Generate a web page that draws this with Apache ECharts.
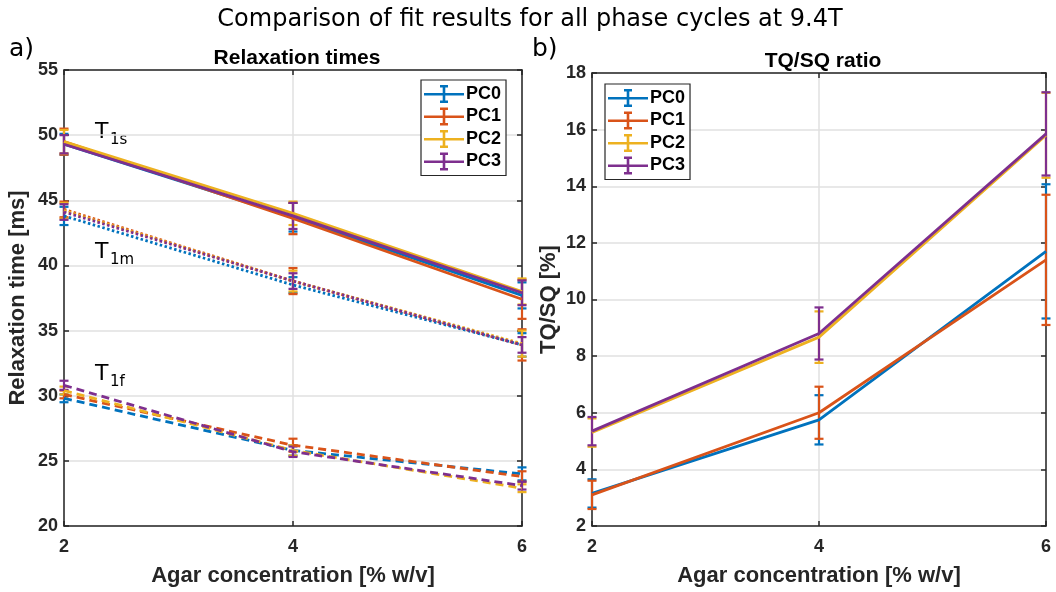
<!DOCTYPE html>
<html>
<head>
<meta charset="utf-8">
<script src="https://cdn.jsdelivr.net/npm/echarts@6/dist/echarts.min.js"></script>
<style>
html,body{margin:0;padding:0;background:#fff;}
#chart{width:1056px;height:592px;}
</style>
</head>
<body>
<div id="chart"></div>
<script>
// ---------------- DATA ----------------
const xVals = [2, 4, 6];
const pcNames = ['PC0', 'PC1', 'PC2', 'PC3'];

// Relaxation times [ms] (rows: PC0..PC3, cols: 2,4,6 % agar)
const t1sVals = [[49.3, 43.7, 37.7], [49.5, 43.6, 37.4], [49.5, 44.0, 38.0], [49.3, 43.8, 37.9]];
const t1sErr  = [[0.8, 1.1, 1.0], [1.0, 1.2, 1.5], [0.9, 0.9, 1.0], [0.7, 1.0, 0.95]];
const t1mVals = [[43.8, 38.5, 33.9], [44.3, 38.8, 33.9], [44.2, 38.8, 34.0], [44.1, 38.8, 33.9]];
const t1mErr  = [[0.7, 0.6, 0.9], [0.6, 1.0, 1.2], [0.6, 0.8, 1.0], [0.6, 0.6, 0.6]];
const t1fVals = [[29.8, 25.8, 24.0], [30.1, 26.2, 23.8], [30.4, 25.8, 22.9], [30.8, 25.7, 23.1]];
const t1fErr  = [[0.3, 0.4, 0.5], [0.3, 0.5, 0.4], [0.3, 0.4, 0.3], [0.35, 0.4, 0.3]];

// TQ/SQ ratio [%]
const tqVals = [[3.15, 5.75, 11.7], [3.1, 6.0, 11.4], [5.3, 8.67, 15.8], [5.35, 8.8, 15.85]];
const tqErr  = [[0.5, 0.87, 2.37], [0.5, 0.92, 2.3], [0.5, 0.91, 1.5], [0.5, 0.92, 1.47]];

const leftTicks = {min: 20, max: 55, interval: 5};
const rightTicks = {min: 2, max: 18, interval: 2};
const xTicks = {min: 2, max: 6, interval: 2};

// ---------------- STYLE ----------------
const colors = ['#0072BD', '#D95319', '#EDB120', '#7E2F8E'];
const axisColor = '#262626';
const gridColor = '#e0e0e0';
const boldFont = 'Liberation Sans, Arial, sans-serif';
const plainFont = 'DejaVu Sans, sans-serif';
const lw = 2.8;

const chart = echarts.init(document.getElementById('chart'), null, {renderer: 'canvas'});

function errRender(color) {
  return function (params, api) {
    const x = api.value(0);
    const lo = api.coord([x, api.value(1)]);
    const hi = api.coord([x, api.value(2)]);
    const hw = 4.5;
    const st = {stroke: color, lineWidth: 2.2};
    return {
      type: 'group',
      children: [
        {type: 'line', shape: {x1: lo[0], y1: lo[1], x2: hi[0], y2: hi[1]}, style: st},
        {type: 'line', shape: {x1: lo[0] - hw, y1: lo[1], x2: lo[0] + hw, y2: lo[1]}, style: st},
        {type: 'line', shape: {x1: hi[0] - hw, y1: hi[1], x2: hi[0] + hw, y2: hi[1]}, style: st}
      ]
    };
  };
}

const series = [];
const groupsLeft = [
  {vals: t1sVals, err: t1sErr, type: 'solid'},
  {vals: t1mVals, err: t1mErr, type: [2.5, 2.5]},
  {vals: t1fVals, err: t1fErr, type: [8, 5]}
];
pcNames.forEach(function (name, p) {
  groupsLeft.forEach(function (g) {
    series.push({
      name: name, type: 'line', xAxisIndex: 0, yAxisIndex: 0,
      data: xVals.map((x, i) => [x, g.vals[p][i]]),
      symbol: 'none', showSymbol: false, silent: true, animation: false,
      itemStyle: {color: colors[p]},
      lineStyle: {color: colors[p], width: lw, type: g.type, cap: 'butt'}
    });
    series.push({
      name: name, type: 'custom', xAxisIndex: 0, yAxisIndex: 0,
      data: xVals.map((x, i) => [x, g.vals[p][i] - g.err[p][i], g.vals[p][i] + g.err[p][i]]),
      renderItem: errRender(colors[p]), silent: true, animation: false,
      itemStyle: {color: colors[p]}
    });
  });
});
pcNames.forEach(function (name, p) {
  series.push({
    name: name, type: 'line', xAxisIndex: 2, yAxisIndex: 2,
    data: xVals.map((x, i) => [x, tqVals[p][i]]),
    symbol: 'none', showSymbol: false, silent: true, animation: false,
    itemStyle: {color: colors[p]},
    lineStyle: {color: colors[p], width: lw}
  });
  series.push({
    name: name, type: 'custom', xAxisIndex: 2, yAxisIndex: 2,
    data: xVals.map((x, i) => [x, tqVals[p][i] - tqErr[p][i], tqVals[p][i] + tqErr[p][i]]),
    renderItem: errRender(colors[p]), silent: true, animation: false,
    itemStyle: {color: colors[p]}
  });
});

const lineAx = {show: true, lineStyle: {color: axisColor, width: 1.5}};
const tickIn = {show: true, inside: true, length: 5, lineStyle: {color: axisColor, width: 1.5}};
const labelFont = {color: axisColor, fontFamily: boldFont, fontWeight: 'bold', fontSize: 18};
const nameFont = {color: axisColor, fontFamily: boldFont, fontWeight: 'bold', fontSize: 22};

function mainX(gridIndex) {
  return {
    type: 'value', gridIndex: gridIndex, min: xTicks.min, max: xTicks.max, interval: xTicks.interval,
    position: 'bottom', axisLine: lineAx, axisTick: tickIn,
    axisLabel: Object.assign({margin: 12}, labelFont),
    splitLine: {show: true, lineStyle: {color: gridColor, width: 1.5}},
    name: 'Agar concentration [% w/v]', nameLocation: 'middle', nameGap: 39, nameTextStyle: nameFont
  };
}
function topX(gridIndex) {
  return {
    type: 'value', gridIndex: gridIndex, min: xTicks.min, max: xTicks.max, interval: xTicks.interval,
    position: 'top', axisLine: lineAx, axisTick: tickIn, axisLabel: {show: false}, splitLine: {show: false}
  };
}
function mainY(gridIndex, t, name, gap) {
  return {
    type: 'value', gridIndex: gridIndex, min: t.min, max: t.max, interval: t.interval,
    position: 'left', axisLine: lineAx, axisTick: tickIn,
    axisLabel: Object.assign({margin: 6}, labelFont),
    splitLine: {show: true, lineStyle: {color: gridColor, width: 1.5}},
    name: name, nameLocation: 'middle', nameGap: gap, nameTextStyle: nameFont
  };
}
function rightY(gridIndex, t) {
  return {
    type: 'value', gridIndex: gridIndex, min: t.min, max: t.max, interval: t.interval,
    position: 'right', axisLine: lineAx, axisTick: tickIn, axisLabel: {show: false}, splitLine: {show: false}
  };
}

const legendIcon = 'path://M0,8 L40,8 L40,10.6 L0,10.6 Z M18.7,1 L21.3,1 L21.3,17 L18.7,17 Z M16,0 L24,0 L24,2.4 L16,2.4 Z M16,15.6 L24,15.6 L24,18 L16,18 Z';
function legend(left, top) {
  return {
    orient: 'vertical', left: left, top: top,
    data: pcNames.map(n => ({name: n, icon: legendIcon})),
    itemWidth: 42, itemHeight: 18, itemGap: 4.5, padding: [5, 5, 5, 3],
    borderColor: '#262626', borderWidth: 1.2, backgroundColor: '#fff',
    textStyle: {fontFamily: boldFont, fontWeight: 'bold', fontSize: 18, color: '#000', padding: [0, 0, 0, -4]},
    itemStyle: {borderWidth: 0}, selectedMode: false
  };
}

const option = {
  backgroundColor: '#fff',
  animation: false,
  title: [
    {text: 'Comparison of fit results for all phase cycles at 9.4T', left: 525, top: 3, textAlign: 'center',
     textStyle: {fontFamily: plainFont, fontWeight: 'normal', fontSize: 24, color: '#000'}},
    {text: 'Relaxation times', left: 292, top: 43, textAlign: 'center',
     textStyle: {fontFamily: boldFont, fontWeight: 'bold', fontSize: 21, color: '#000'}},
    {text: 'TQ/SQ ratio', left: 818, top: 46, textAlign: 'center',
     textStyle: {fontFamily: boldFont, fontWeight: 'bold', fontSize: 21, color: '#000'}}
  ],
  grid: [
    {left: 64, top: 70, width: 458, height: 457, show: false},
    {left: 592, top: 73, width: 454, height: 454, show: false}
  ],
  xAxis: [mainX(0), topX(0), mainX(1), topX(1)],
  yAxis: [mainY(0, leftTicks, 'Relaxation time [ms]', 35), rightY(0, leftTicks), mainY(1, rightTicks, 'TQ/SQ [%]', 32), rightY(1, rightTicks)],
  legend: [legend(421, 80), legend(605, 84)],
  graphic: [
    {type: 'text', left: 9, top: 37, style: {text: 'a)', fontFamily: plainFont, fontSize: 25, fill: '#000'}},
    {type: 'text', left: 532, top: 37, style: {text: 'b)', fontFamily: plainFont, fontSize: 25, fill: '#000'}},
    {type: 'text', left: 95, top: 121, style: {text: 'T', fontFamily: plainFont, fontSize: 22, fill: '#000'}},
    {type: 'text', left: 110, top: 133, style: {text: '1s', fontFamily: plainFont, fontSize: 15, fill: '#000'}},
    {type: 'text', left: 95, top: 241, style: {text: 'T', fontFamily: plainFont, fontSize: 22, fill: '#000'}},
    {type: 'text', left: 110, top: 253, style: {text: '1m', fontFamily: plainFont, fontSize: 15, fill: '#000'}},
    {type: 'text', left: 95, top: 363, style: {text: 'T', fontFamily: plainFont, fontSize: 22, fill: '#000'}},
    {type: 'text', left: 110, top: 375, style: {text: '1f', fontFamily: plainFont, fontSize: 15, fill: '#000'}}
  ],
  series: series
};
chart.setOption(option);
</script>
</body>
</html>
